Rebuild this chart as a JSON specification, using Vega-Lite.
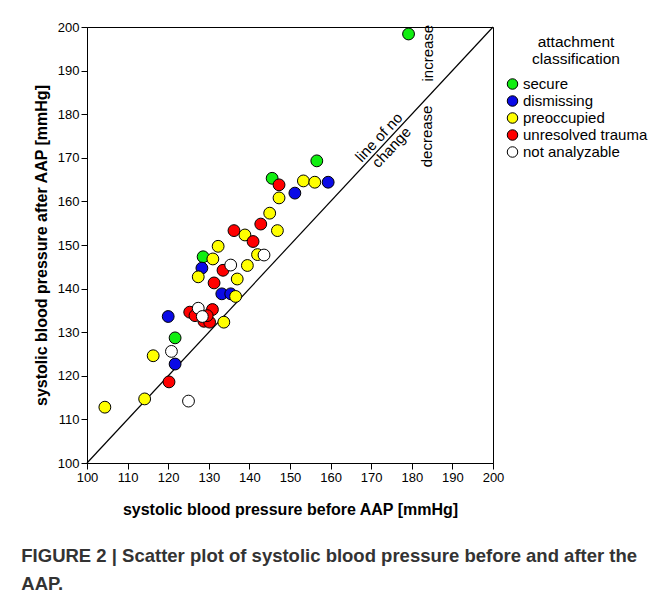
{
  "$schema": "https://vega.github.io/schema/vega-lite/v6.json",
  "width": 406,
  "height": 436,
  "padding": {"left": 21, "top": 21, "right": 5, "bottom": 5},
  "background": "white",
  "config": {
    "font": "Liberation Sans",
    "view": {"stroke": "black", "strokeWidth": 1},
    "axis": {"domainColor": "black", "tickColor": "black", "labelColor": "black", "titleColor": "black", "grid": false, "labelFont": "Liberation Sans", "titleFont": "Liberation Sans"}
  },
  "title": {
    "text": ["FIGURE 2 | Scatter plot of systolic blood pressure before and after the", "AAP."],
    "orient": "bottom",
    "anchor": "start",
    "frame": "bounds",
    "dx": -12,
    "offset": 30,
    "fontSize": 18.5,
    "fontWeight": "bold",
    "color": "#333333",
    "lineHeight": 28,
    "font": "Liberation Sans"
  },
  "datasets": {
    "points": [
      {"before": 179.2, "after": 198.4, "group": "secure"},
      {"before": 156.6, "after": 169.3, "group": "secure"},
      {"before": 145.6, "after": 165.3, "group": "secure"},
      {"before": 128.6, "after": 147.3, "group": "secure"},
      {"before": 121.7, "after": 128.7, "group": "secure"},
      {"before": 159.4, "after": 164.4, "group": "dismissing"},
      {"before": 151.2, "after": 161.9, "group": "dismissing"},
      {"before": 128.3, "after": 144.7, "group": "dismissing"},
      {"before": 133.2, "after": 138.8, "group": "dismissing"},
      {"before": 135.4, "after": 138.8, "group": "dismissing"},
      {"before": 120.0, "after": 133.6, "group": "dismissing"},
      {"before": 121.7, "after": 122.7, "group": "dismissing"},
      {"before": 153.3, "after": 164.7, "group": "preoccupied"},
      {"before": 156.1, "after": 164.4, "group": "preoccupied"},
      {"before": 147.3, "after": 160.8, "group": "preoccupied"},
      {"before": 145.0, "after": 157.3, "group": "preoccupied"},
      {"before": 146.9, "after": 153.3, "group": "preoccupied"},
      {"before": 138.9, "after": 152.3, "group": "preoccupied"},
      {"before": 132.3, "after": 149.7, "group": "preoccupied"},
      {"before": 131.0, "after": 146.8, "group": "preoccupied"},
      {"before": 142.0, "after": 147.8, "group": "preoccupied"},
      {"before": 139.5, "after": 145.3, "group": "preoccupied"},
      {"before": 127.4, "after": 142.7, "group": "preoccupied"},
      {"before": 137.0, "after": 142.2, "group": "preoccupied"},
      {"before": 136.6, "after": 138.2, "group": "preoccupied"},
      {"before": 133.7, "after": 132.3, "group": "preoccupied"},
      {"before": 116.3, "after": 124.6, "group": "preoccupied"},
      {"before": 114.2, "after": 114.7, "group": "preoccupied"},
      {"before": 104.4, "after": 112.8, "group": "preoccupied"},
      {"before": 147.3, "after": 163.8, "group": "unresolved trauma"},
      {"before": 142.8, "after": 154.8, "group": "unresolved trauma"},
      {"before": 136.2, "after": 153.3, "group": "unresolved trauma"},
      {"before": 140.9, "after": 150.8, "group": "unresolved trauma"},
      {"before": 133.5, "after": 144.2, "group": "unresolved trauma"},
      {"before": 131.3, "after": 141.3, "group": "unresolved trauma"},
      {"before": 125.3, "after": 134.6, "group": "unresolved trauma"},
      {"before": 130.9, "after": 135.2, "group": "unresolved trauma"},
      {"before": 128.8, "after": 132.5, "group": "unresolved trauma"},
      {"before": 130.2, "after": 132.3, "group": "unresolved trauma"},
      {"before": 126.6, "after": 133.8, "group": "unresolved trauma"},
      {"before": 129.6, "after": 133.8, "group": "unresolved trauma"},
      {"before": 120.2, "after": 118.6, "group": "unresolved trauma"},
      {"before": 143.6, "after": 147.7, "group": "not analyzable"},
      {"before": 135.4, "after": 145.4, "group": "not analyzable"},
      {"before": 127.4, "after": 135.5, "group": "not analyzable"},
      {"before": 128.4, "after": 133.6, "group": "not analyzable"},
      {"before": 120.8, "after": 125.6, "group": "not analyzable"},
      {"before": 125.0, "after": 114.2, "group": "not analyzable"}
    ],
    "diag": [
      {"before": 100, "after": 100},
      {"before": 200, "after": 200}
    ],
    "notes": [
      {"before": 171.9, "after": 174.7, "label": "line of no", "rot": -47},
      {"before": 175.0, "after": 172.4, "label": "change", "rot": -47},
      {"before": 184.0, "after": 194.0, "label": "increase", "rot": -90},
      {"before": 183.7, "after": 174.9, "label": "decrease", "rot": -90}
    ]
  },
  "layer": [
    {
      "data": {"name": "diag"},
      "mark": {"type": "line", "color": "black", "strokeWidth": 1.2},
      "encoding": {
        "x": {"field": "before", "type": "quantitative", "scale": {"domain": [100, 200], "nice": false, "zero": false},
          "axis": {
            "title": "systolic blood pressure before AAP [mmHg]",
            "titleFontSize": 16, "titleFontWeight": "bold", "titlePadding": 17,
            "values": [100,105,110,115,120,125,130,135,140,145,150,155,160,165,170,175,180,185,190,195,200],
            "labelExpr": "datum.value % 10 === 0 ? datum.label : ''",
            "tickSize": {"condition": {"test": "datum.value % 10 === 0", "value": 6}, "value": 4},
            "labelFontSize": 13, "labelPadding": 2, "labelFlush": false, "labelOverlap": false
          }},
        "y": {"field": "after", "type": "quantitative", "scale": {"domain": [100, 200], "nice": false, "zero": false},
          "axis": {
            "title": "systolic blood pressure after AAP [mmHg]",
            "titleFontSize": 16, "titleFontWeight": "bold", "titlePadding": 8,
            "values": [100,105,110,115,120,125,130,135,140,145,150,155,160,165,170,175,180,185,190,195,200],
            "labelExpr": "datum.value % 10 === 0 ? datum.label : ''",
            "tickSize": {"condition": {"test": "datum.value % 10 === 0", "value": 6}, "value": 4},
            "labelFontSize": 13, "labelPadding": 2, "labelFlush": false, "labelOverlap": false
          }}
      }
    },
    {
      "data": {"name": "notes"},
      "mark": {"type": "text", "fontSize": 15, "align": "center", "baseline": "middle", "color": "black"},
      "encoding": {
        "x": {"field": "before", "type": "quantitative"},
        "y": {"field": "after", "type": "quantitative"},
        "text": {"field": "label"},
        "angle": {"field": "rot", "type": "quantitative", "scale": null}
      }
    },
    {
      "data": {"name": "points"},
      "mark": {"type": "point", "shape": "circle", "filled": true, "size": 140, "stroke": "black", "strokeWidth": 1, "opacity": 1},
      "encoding": {
        "x": {"field": "before", "type": "quantitative"},
        "y": {"field": "after", "type": "quantitative"},
        "fill": {
          "field": "group", "type": "nominal",
          "scale": {
            "domain": ["secure", "dismissing", "preoccupied", "unresolved trauma", "not analyzable"],
            "range": ["#11ee11", "#0a0ae6", "#ffff00", "#ff0000", "#ffffff"]
          },
          "legend": {
            "title": ["attachment", "classification"],
            "titleFontSize": 15.5, "titleFontWeight": "normal", "titleAlign": "center", "titleAnchor": "middle",
            "titleLineHeight": 17, "titlePadding": 9,
            "labelFontSize": 15, "symbolSize": 110, "symbolStrokeColor": "black", "symbolStrokeWidth": 1,
            "symbolType": "circle", "rowPadding": 1, "labelOffset": 3, "offset": 4, "padding": 8
          }
        }
      }
    }
  ]
}
